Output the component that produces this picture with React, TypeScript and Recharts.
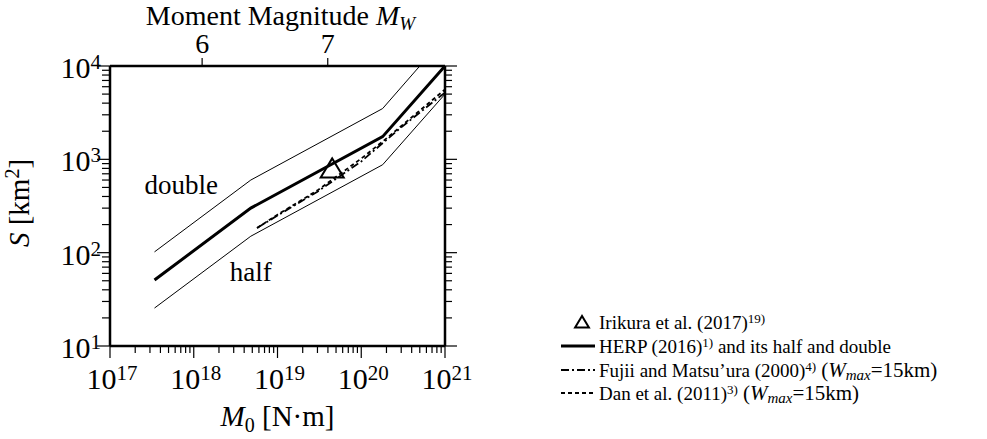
import React from "react";
import { ComposedChart, Line, Scatter, XAxis, YAxis, ReferenceDot, Label } from "recharts";

const FONT = "'Liberation Serif', 'Times New Roman', serif";

// seismic moment M0 [N·m] and rupture area S [km²]
const herpM0 = [3.4e17, 4.8e18, 1.8e20, 1e21];
const herpS = [51, 300, 1750, 10000];
const halfS = [25.5, 150, 875, 5000];
const doubleM0 = [3.4e17, 4.8e18, 1.8e20, 5e20];
const doubleS = [102, 600, 3500, 10000];
const fujiiM0 = [5.7e18, 1e19, 3e19, 1e20, 3e20, 1e21];
const fujiiS = [184, 250, 450, 950, 2200, 5200];
const danM0 = [5.7e18, 1e19, 3e19, 1e20, 1.8e20, 1e21];
const danS = [184, 255, 465, 1020, 1550, 5600];
const irikuraM0 = [4.5e19];
const irikuraS = [800];

const xMajor = [1e17, 1e18, 1e19, 1e20, 1e21];
const yMajor = [1e1, 1e2, 1e3, 1e4];
const minorSteps = [2, 3, 4, 5, 6, 7, 8, 9];
const mwTicks = [6, 7];

const annotations = [
  { text: "double", m0: 7.1e17, s: 420 },
  { text: "half", m0: 4.8e18, s: 50 },
];

const legendItems = [
  { name: "Irikura et al. (2017)", sup: "19)", tail: "", wmax: false },
  { name: "HERP (2016)", sup: "1)", tail: " and its half and double", wmax: false },
  { name: "Fujii and Matsu\u2019ura (2000)", sup: "4)", tail: "", wmax: true },
  { name: "Dan et al. (2011)", sup: "3)", tail: "", wmax: true },
];

const toPoints = (xs: number[], ys: number[]) => xs.map((m0, i) => ({ m0, s: ys[i] }));

const withMinors = (majors: number[]) => {
  const out: number[] = [];
  majors.forEach((v, i) => {
    out.push(v);
    if (i < majors.length - 1) minorSteps.forEach((m) => out.push(m * v));
  });
  return out;
};

const xTicks = withMinors(xMajor);
const yTicks = withMinors(yMajor);
const mwToM0 = (mw: number) => Math.pow(10, 1.5 * mw + 9.1);

const isMajor = (v: number) => {
  const lg = Math.log10(v);
  return Math.abs(lg - Math.round(lg)) < 1e-6;
};

const Pow = ({ x, y, v, anchor }: any) => (
  <text x={x} y={y} textAnchor={anchor} fontFamily={FONT} fontSize={30} fill="#000">
    10
    <tspan fontSize={21} dy={-9}>
      {Math.round(Math.log10(v))}
    </tspan>
  </text>
);

const BottomTick = ({ x, y, payload }: any) => {
  const major = isMajor(payload.value);
  return (
    <g>
      <line x1={x} x2={x} y1={y} y2={y + (major ? 12 : 7)} stroke="#000" strokeWidth={1.2} />
      {major && <Pow x={x + 2} y={y + 43} v={payload.value} anchor="middle" />}
    </g>
  );
};

const LeftTick = ({ x, y, payload }: any) => {
  const major = isMajor(payload.value);
  return (
    <g>
      <line x1={x} x2={x - (major ? 13 : 8)} y1={y} y2={y} stroke="#000" strokeWidth={1.2} />
      {major && <Pow x={x - 9} y={y + 12} v={payload.value} anchor="end" />}
    </g>
  );
};

const RightTick = ({ x, y, payload }: any) => {
  const major = isMajor(payload.value);
  return <line x1={x} x2={x + (major ? 12 : 7)} y1={y} y2={y} stroke="#000" strokeWidth={1.2} />;
};

const TopTick = ({ x, y, payload }: any) => {
  const mw = Math.round((Math.log10(payload.value) - 9.1) / 1.5);
  return (
    <g>
      <line x1={x} x2={x} y1={y} y2={y - 8} stroke="#000" strokeWidth={1.2} />
      <text x={x} y={y - 13} textAnchor="middle" fontFamily={FONT} fontSize={28} fill="#000">
        {mw}
      </text>
    </g>
  );
};

const Triangle = ({ cx, cy, size = 1 }: any) => (
  <polygon
    points={`${cx},${cy - 10 * size} ${cx - 11.5 * size},${cy + 9 * size} ${cx + 11.5 * size},${cy + 9 * size}`}
    fill="none"
    stroke="#000"
    strokeWidth={2}
  />
);

const bottomTitle = ({ viewBox }: any) => (
  <text x={viewBox.x + viewBox.width / 2} y={viewBox.y + 80} textAnchor="middle" fontFamily={FONT} fontSize={29} fill="#000">
    <tspan fontStyle="italic">M</tspan>
    <tspan fontSize={20} dy={6}>0</tspan>
    <tspan dy={-6}> [N·m]</tspan>
  </text>
);

const topTitle = ({ viewBox }: any) => (
  <text x={viewBox.x + viewBox.width / 2 + 3} y={25} textAnchor="middle" fontFamily={FONT} fontSize={28} fill="#000">
    Moment Magnitude <tspan fontStyle="italic">M</tspan>
    <tspan fontStyle="italic" fontSize={19} dy={5}>W</tspan>
  </text>
);

const leftTitle = ({ viewBox }: any) => {
  const cy = viewBox.y + viewBox.height / 2 - 3;
  return (
    <text x={29} y={cy} transform={`rotate(-90 29 ${cy})`} textAnchor="middle" fontFamily={FONT} fontSize={29} fill="#000">
      <tspan fontStyle="italic">S</tspan> [km
      <tspan fontSize={20} dy={-10}>2</tspan>
      <tspan dy={10}>]</tspan>
    </text>
  );
};

const LegendBox = () => {
  const rows = [322, 346, 370, 393];
  const dashes = ["", "", "8 3 2 3", "4 3"];
  return (
    <svg width={987} height={439} style={{ position: "absolute", left: 0, top: 0, pointerEvents: "none" }}>
      {legendItems.map((it, i) => {
        const y = rows[i];
        return (
          <g key={it.name}>
            {i === 0 ? (
              <Triangle cx={582} cy={y} size={0.6} />
            ) : (
              <line x1={561} x2={595} y1={y} y2={y} stroke="#000" strokeWidth={i === 1 ? 3 : 1.8} strokeDasharray={dashes[i]} />
            )}
            <text x={599} y={y + 6.5} fontFamily={FONT} fontSize={19} fill="#000">
              {it.name}
              <tspan fontSize={13} dy={-6}>{it.sup}</tspan>
              {it.tail && <tspan dy={6}>{it.tail}</tspan>}
              {it.wmax && (
                <>
                  <tspan dy={6} dx={5} fontSize={21}>(</tspan>
                  <tspan fontStyle="italic" fontSize={21}>W</tspan>
                  <tspan fontStyle="italic" fontSize={15} dy={3}>max</tspan>
                  <tspan dy={-3} fontSize={21}>=15km)</tspan>
                </>
              )}
            </text>
          </g>
        );
      })}
    </svg>
  );
};

export default function App() {
  const herp = toPoints(herpM0, herpS);
  const half = toPoints(herpM0, halfS);
  const double = toPoints(doubleM0, doubleS);
  const fujii = toPoints(fujiiM0, fujiiS);
  const dan = toPoints(danM0, danS);
  const irikura = toPoints(irikuraM0, irikuraS);

  return (
    <div style={{ position: "absolute", left: 0, top: 0, width: 987, height: 439, background: "#fff" }}>
      <ComposedChart width={987} height={439} margin={{ top: 0, right: 482, bottom: 0, left: 0 }}>
        <XAxis
          xAxisId="bottom"
          dataKey="m0"
          type="number"
          scale="log"
          domain={[1e17, 1e21]}
          ticks={xTicks}
          interval={0}
          height={93}
          tickSize={0}
          tickMargin={0}
          tick={<BottomTick />}
          axisLine={{ stroke: "#000", strokeWidth: 2.5 }}
          allowDataOverflow
        >
          <Label content={bottomTitle} />
        </XAxis>
        <XAxis
          xAxisId="top"
          dataKey="m0"
          orientation="top"
          type="number"
          scale="log"
          domain={[1e17, 1e21]}
          ticks={mwTicks.map(mwToM0)}
          interval={0}
          height={66}
          tickSize={0}
          tickMargin={0}
          tick={<TopTick />}
          axisLine={{ stroke: "#000", strokeWidth: 2.5 }}
          allowDataOverflow
        >
          <Label content={topTitle} />
        </XAxis>
        <YAxis
          yAxisId="left"
          dataKey="s"
          type="number"
          scale="log"
          domain={[10, 1e4]}
          ticks={yTicks}
          interval={0}
          width={110}
          tickSize={0}
          tickMargin={0}
          tick={<LeftTick />}
          axisLine={{ stroke: "#000", strokeWidth: 2.5 }}
          allowDataOverflow
        >
          <Label content={leftTitle} />
        </YAxis>
        <YAxis
          yAxisId="right"
          dataKey="s"
          orientation="right"
          type="number"
          scale="log"
          domain={[10, 1e4]}
          ticks={yTicks}
          interval={0}
          width={60}
          tickSize={0}
          tickMargin={0}
          tick={<RightTick />}
          axisLine={{ stroke: "#000", strokeWidth: 2.5 }}
          allowDataOverflow
        />
        <Line xAxisId="bottom" yAxisId="left" data={double} dataKey="s" type="linear" stroke="#000" strokeWidth={1} dot={false} isAnimationActive={false} />
        <Line xAxisId="bottom" yAxisId="left" data={half} dataKey="s" type="linear" stroke="#000" strokeWidth={1} dot={false} isAnimationActive={false} />
        <Line xAxisId="bottom" yAxisId="left" data={dan} dataKey="s" type="linear" stroke="#000" strokeWidth={1.8} strokeDasharray="4 3" dot={false} isAnimationActive={false} />
        <Line xAxisId="bottom" yAxisId="left" data={fujii} dataKey="s" type="linear" stroke="#000" strokeWidth={1.8} strokeDasharray="8 3 2 3" dot={false} isAnimationActive={false} />
        <Line xAxisId="top" yAxisId="right" data={herp} dataKey="s" type="linear" stroke="#000" strokeWidth={3} dot={false} isAnimationActive={false} />
        <Scatter xAxisId="bottom" yAxisId="left" data={irikura} dataKey="s" shape={(p: any) => <Triangle cx={p.cx} cy={p.cy} />} isAnimationActive={false} />
        {annotations.map((a) => (
          <ReferenceDot
            key={a.text}
            xAxisId="bottom"
            yAxisId="left"
            x={a.m0}
            y={a.s}
            r={0}
            shape={(p: any) => (
              <text x={p.cx} y={p.cy} textAnchor="middle" fontFamily={FONT} fontSize={27} fill="#000">
                {a.text}
              </text>
            )}
          />
        ))}
      </ComposedChart>
      <LegendBox />
    </div>
  );
}
